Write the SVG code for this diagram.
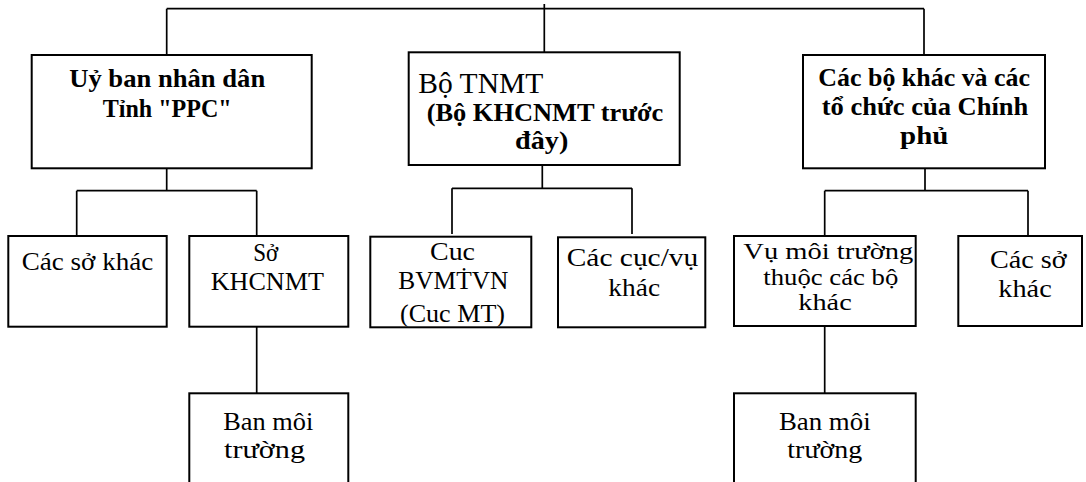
<svg xmlns="http://www.w3.org/2000/svg" width="1086" height="482" viewBox="0 0 1086 482">
<style>
.box{fill:#fff;stroke:#000;stroke-width:2}
.con{fill:none;stroke:#000;stroke-width:1.7}
.r,.s,.b,.big{font-family:"Liberation Serif","DejaVu Serif","Times New Roman",serif;fill:#000;text-anchor:middle}
.r{font-size:26px;font-weight:normal}
.s{font-size:23px;font-weight:normal}
.b{font-size:25px;font-weight:bold}
.big{font-size:30px;font-weight:normal;text-anchor:start}
</style>
<defs>
<clipPath id="clipC3"><rect x="371" y="237" width="160" height="89.5"/></clipPath>
</defs>
<rect width="1086" height="482" fill="#fff"/>
<g id="connectors">
<path class="con" d="M166.7,8.7 H924 M544.3,4 V52.3 M166.7,8.7 V55 M924,8.7 V55"/>
<path class="con" d="M166.7,168.3 V190.7 M76.7,190.7 H256.7 M76.7,190.7 V236 M256.7,190.7 V236"/>
<path class="con" d="M542.3,165 V188.3 M452,188.3 H632 M452,188.3 V234 M632,188.3 V234"/>
<path class="con" d="M925,168.3 V190.7 M824.7,190.7 H1028 M824.7,190.7 V236 M1028,190.7 V236"/>
<path class="con" d="M256.7,326.7 V393.3 M824.7,326 V393.3"/>
</g>
<g id="ubnd">
<rect class="box" x="31.7" y="55" width="280" height="113.3"/>
<text class="b" x="167.2" y="86.5" textLength="196" lengthAdjust="spacingAndGlyphs">Uỷ ban nhân dân</text>
<text class="b" x="167.2" y="116.5" textLength="129" lengthAdjust="spacingAndGlyphs">Tỉnh "PPC"</text>
</g>
<g id="botnmt">
<rect class="box" x="408.7" y="52.3" width="271" height="112.7"/>
<text class="big" x="418.3" y="93" textLength="125" lengthAdjust="spacingAndGlyphs">Bộ TNMT</text>
<text class="b" x="545" y="120.5" textLength="236.6" lengthAdjust="spacingAndGlyphs">(Bộ KHCNMT trước</text>
<text class="b" x="541.7" y="149" textLength="53.3" lengthAdjust="spacingAndGlyphs">đây)</text>
</g>
<g id="cacbo">
<rect class="box" x="803" y="55" width="242" height="113.3"/>
<text class="b" x="924.2" y="85.5" textLength="211.7" lengthAdjust="spacingAndGlyphs">Các bộ khác và các</text>
<text class="b" x="925" y="115" textLength="206.6" lengthAdjust="spacingAndGlyphs">tổ chức của Chính</text>
<text class="b" x="924.2" y="144" textLength="48.3" lengthAdjust="spacingAndGlyphs">phủ</text>
</g>
<g id="cacsokhac1">
<rect class="box" x="8.3" y="236" width="158.4" height="90.7"/>
<text class="r" x="87.5" y="270" textLength="131.6" lengthAdjust="spacingAndGlyphs">Các sở khác</text>
</g>
<g id="sokhcnmt">
<rect class="box" x="189.3" y="236" width="159" height="90.7"/>
<text class="r" x="265.8" y="261" textLength="25" lengthAdjust="spacingAndGlyphs">Sở</text>
<text class="r" x="267.3" y="290" textLength="113.3" lengthAdjust="spacingAndGlyphs">KHCNMT</text>
</g>
<g id="cucbvmt">
<rect class="box" x="370.3" y="236.7" width="161" height="90.6"/>
<g clip-path="url(#clipC3)">
<text class="r" x="452.5" y="260" textLength="45" lengthAdjust="spacingAndGlyphs">Cuc</text>
<text class="r" x="453.3" y="289" textLength="110" lengthAdjust="spacingAndGlyphs">BVMṪVN</text>
<text class="r" x="452.5" y="322" textLength="105" lengthAdjust="spacingAndGlyphs">(Cuc MT)</text>
</g>
</g>
<g id="caccucvu">
<rect class="box" x="558" y="237.3" width="147.3" height="90"/>
<text class="r" x="632.5" y="266" textLength="131.6" lengthAdjust="spacingAndGlyphs">Các cục/vụ</text>
<text class="r" x="634.2" y="296" textLength="51.7" lengthAdjust="spacingAndGlyphs">khác</text>
</g>
<g id="vumoitruong">
<rect class="box" x="734" y="236" width="181.7" height="90"/>
<text class="s" x="828.3" y="259" textLength="170" lengthAdjust="spacingAndGlyphs">Vụ môi trường</text>
<text class="s" x="830.8" y="284.5" textLength="135" lengthAdjust="spacingAndGlyphs">thuộc các bộ</text>
<text class="s" x="825" y="310" textLength="53.4" lengthAdjust="spacingAndGlyphs">khác</text>
</g>
<g id="cacsokhac2">
<rect class="box" x="958.3" y="236" width="123.7" height="90"/>
<text class="r" x="1028.3" y="268" textLength="76.7" lengthAdjust="spacingAndGlyphs">Các sở</text>
<text class="r" x="1025" y="297" textLength="53.4" lengthAdjust="spacingAndGlyphs">khác</text>
</g>
<g id="banmoitruong1">
<rect class="box" x="189.3" y="393.3" width="159" height="100"/>
<text class="r" x="268.3" y="430" textLength="90" lengthAdjust="spacingAndGlyphs">Ban môi</text>
<text class="r" x="264.5" y="458" textLength="81" lengthAdjust="spacingAndGlyphs">trường</text>
</g>
<g id="banmoitruong2">
<rect class="box" x="734" y="393.3" width="181.7" height="100"/>
<text class="r" x="824.8" y="430" textLength="91.7" lengthAdjust="spacingAndGlyphs">Ban môi</text>
<text class="r" x="824.8" y="458" textLength="75" lengthAdjust="spacingAndGlyphs">trường</text>
</g>
</svg>
